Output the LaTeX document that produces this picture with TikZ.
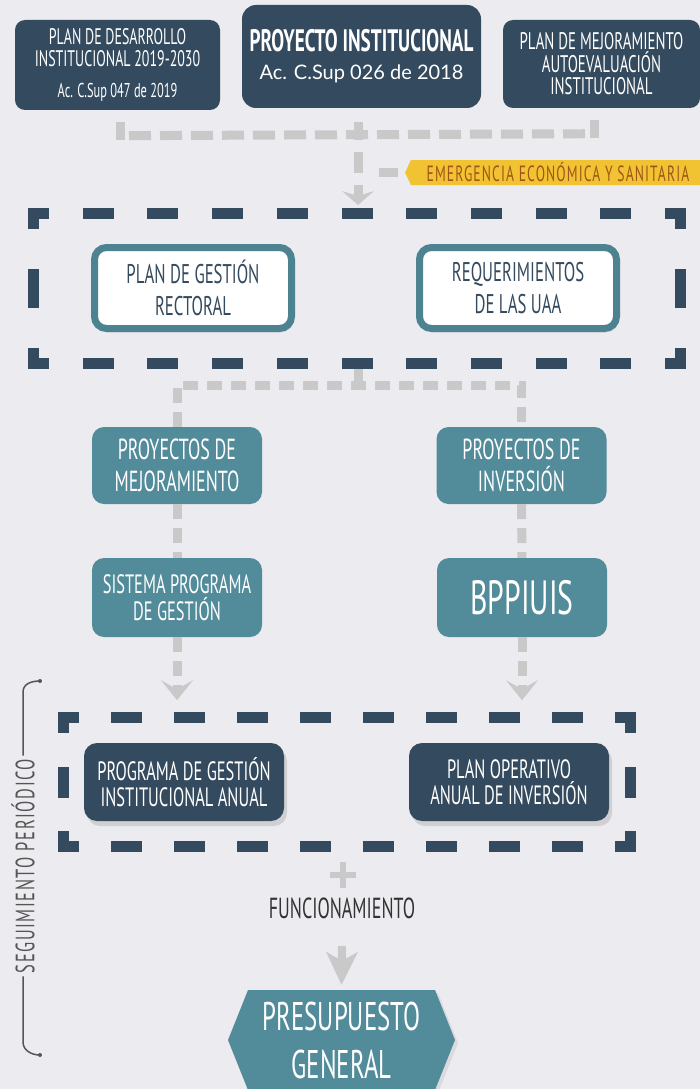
\documentclass[tikz,border=0pt]{standalone}
\usepackage{fontspec}
\setmainfont{PT Sans}
\newfontfamily\cond[FakeStretch=0.62]{PT Sans}
\newfontfamily\gill{Lato}
\usetikzlibrary{arrows.meta,shapes.symbols,shadows,calc}

\definecolor{bgc}{RGB}{236,235,240}
\definecolor{navy}{RGB}{52,74,94}
\definecolor{tealc}{RGB}{82,139,153}
\definecolor{tealb}{RGB}{77,130,144}
\definecolor{gconn}{RGB}{201,201,201}
\definecolor{yel}{RGB}{241,195,50}
\definecolor{brownt}{RGB}{160,84,26}
\definecolor{dtext}{RGB}{51,51,51}
\definecolor{segc}{RGB}{85,85,85}

\newcommand{\fsz}[2]{\fontsize{#1}{#2}\selectfont}

\tikzset{
  navybox/.style={rounded corners=10pt, fill=navy, text=white, align=center, inner sep=0pt},
  boxshadow/.style={drop shadow={opacity=0.25, shadow xshift=3pt, shadow yshift=-5pt}},
  whitebox/.style={rounded corners=12pt, fill=white, draw=tealb, line width=7pt, text=navy,
    align=center, inner sep=0pt, minimum width=197pt, minimum height=81pt,
    font=\cond\fsz{27}{31.5}, drop shadow={opacity=0.12, shadow xshift=2pt, shadow yshift=-4pt}},
  tealbox/.style={rounded corners=12pt, fill=tealc, text=white, align=center, inner sep=0pt,
    minimum width=170pt, minimum height=78pt},
  banner/.style={signal, signal to=west, signal pointer angle=130, fill=yel, text=brownt,
    minimum width=300pt, minimum height=25pt, inner sep=0pt,
    font=\cond\fsz{22}{22}\addfontfeature{LetterSpace=5}},
  gline/.style={draw=gconn, line width=9pt, dash pattern=on 15pt off 9pt},
  garrow/.style={gline, -{Stealth[length=20pt, width=32pt, inset=9pt, line width=0pt]}},
  frame/.style={draw=navy, line width=11pt, line cap=rect},
  bline/.style={draw=segc, line width=1.5pt}
}

\begin{document}
\begin{tikzpicture}[x=1pt, y=-1pt]
  \fill[bgc] (0,0) rectangle (700,1089);
  \useasboundingbox (0,0) rectangle (700,1089);

  % sources
  \node[navybox, minimum width=205pt, minimum height=90pt, font=\cond\fsz{22.5}{22}] (pdi) at (117.5,65)
    {PLAN DE DESARROLLO\\INSTITUCIONAL 2019-2030\\[9pt]{\fsz{20}{17}Ac. C.Sup 047 de 2019}};
  \node[navybox, rounded corners=14pt, minimum width=239pt, minimum height=103pt, font=\cond\bfseries\fsz{31}{28}] (pinst) at (361.5,56.5)
    {PROYECTO INSTITUCIONAL\\{\gill\mdseries\fsz{20}{19}Ac. C.Sup 026 de 2018}};
  \node[navybox, minimum width=197pt, minimum height=88pt, font=\cond\fsz{24}{22.5}] (pmej) at (601.5,64)
    {PLAN DE MEJORAMIENTO\\AUTOEVALUACIÓN\\INSTITUCIONAL};

  \node[banner] (emer) at (558,172.5) {EMERGENCIA ECONÓMICA Y SANITARIA};

  % gray links at the top
  \coordinate (f1n) at (358,205);
  \coordinate (f1s) at (358,369);
  \coordinate (tl) at ($(pdi.south)+(2.5,12)$);
  \coordinate (tr) at ($(pmej.south)+(-7.5,12)$);
  \draw[gline, solid] (tl) -- ++(0,18) (tr) -- ++(0,18);
  \draw[gline, dash pattern=on 22pt off 9pt, dash phase=-9pt] ($(tl)+(0,13.5)$) -- ($(tr)+(0,13.5)$);
  \draw[gline, dash pattern=on 21pt off 12pt, dash phase=3pt,
        -{Stealth[length=14pt, width=32pt, inset=5pt, line width=0pt]}] (f1n |- tl) -- (f1n);
  \draw[gline, solid, shorten <=21pt, shorten >=7pt] (f1n |- emer.west) -- (emer.west);

  % first frame
  \draw[frame, dash pattern=on 20pt off 44.7pt, dash phase=10pt] (33.5,213.5) -- (680.5,213.5) (33.5,363.5) -- (680.5,363.5);
  \draw[frame, dash pattern=on 28pt off 51pt, dash phase=18pt] (33.5,213.5) -- (33.5,363.5) (680.5,213.5) -- (680.5,363.5);
  \node[whitebox] (pgr) at (193,288) {PLAN DE GESTIÓN\\RECTORAL};
  \node[whitebox] (req) at (518,288) {REQUERIMIENTOS\\DE LAS UAA};

  % projects
  \node[tealbox, minimum height=77pt, font=\cond\fsz{29}{32}] (pm) at (177,465.5) {PROYECTOS DE\\MEJORAMIENTO};
  \node[tealbox, minimum height=77pt, font=\cond\fsz{29}{32}] (pinv) at (521.5,465.5) {PROYECTOS DE\\INVERSIÓN};
  \node[tealbox, minimum height=79pt, font=\cond\fsz{26.5}{27}] (ss) at (177,597.5) {SISTEMA PROGRAMA\\DE GESTIÓN};
  \node[tealbox, minimum height=79pt, font=\cond\fsz{48}{48}] (bp) at (522,597.5) {BPPIUIS};

  \draw[gline] (f1s) -- ++(0,16) coordinate (fj);
  \draw[gline] (pm.north) -- (pm.north |- fj) -- (pinv.north |- fj) -- (pinv.north);
  \draw[gline] (pm) -- (ss);
  \draw[gline] (pinv) -- (bp);
  \draw[garrow] (ss.south) -- ++(0,63);
  \draw[garrow] (bp.south) -- ++(0,63);

  % second frame
  \draw[frame, dash pattern=on 20pt off 43pt, dash phase=10pt] (63.5,717.5) -- (630.5,717.5) (63.5,846.5) -- (630.5,846.5);
  \draw[frame, dash pattern=on 20pt off 44.5pt, dash phase=10pt] (63.5,717.5) -- (63.5,846.5) (630.5,717.5) -- (630.5,846.5);
  \node[navybox, rounded corners=13pt, boxshadow, minimum width=200pt, minimum height=78pt, font=\cond\fsz{26.5}{26.5}] (prog) at (184,782)
    {PROGRAMA DE GESTIÓN\\INSTITUCIONAL ANUAL};
  \node[navybox, rounded corners=13pt, boxshadow, minimum width=200pt, minimum height=78pt, font=\cond\fsz{26.5}{26.5}] (poa) at (509,782)
    {PLAN OPERATIVO\\ANUAL DE INVERSIÓN};

  % budget
  \coordinate (plus) at (343,875);
  \draw[gconn, line width=6.5pt] (plus) ++(-13,0) -- ++(26,0) (plus) ++(0,-13) -- ++(0,26);
  \node[font=\cond\fsz{29}{29}, text=dtext] (func) at (342,908) {FUNCIONAMIENTO};
  \fill[tealc, drop shadow={opacity=0.15, shadow xshift=3pt, shadow yshift=-3pt}]
    (248,990) -- (435,990) -- (455,1040) -- (435,1090) -- (248,1090) -- (228,1040) -- cycle;
  \node[font=\cond\fsz{40}{48}, text=white, align=center, inner sep=0pt, minimum width=187pt, minimum height=100pt] (pres) at (341.5,1040)
    {PRESUPUESTO\\GENERAL};
  \draw[gconn, line width=8pt, shorten >=5pt, -{Stealth[length=33pt, width=32pt, inset=9pt, line width=0pt]}]
    ($(func.south)+(0,24)$) -- (pres.north);

  % follow-up brace
  \node[rotate=90, inner sep=3pt, text=segc, font=\cond\fsz{26.5}{26.5}\addfontfeature{LetterSpace=6}] (seg) at (23,866) {SEGUIMIENTO PERIÓDICO};
  \draw[bline] (seg.east) -- (23,692) .. controls (23,684) and (31,681) .. (40,681);
  \draw[bline] (seg.west) -- (23,1042) .. controls (23,1050) and (31,1055) .. (40,1055);
  \fill[segc] (40,681) circle (2pt) (40,1055) circle (2pt);
\end{tikzpicture}
\end{document}
